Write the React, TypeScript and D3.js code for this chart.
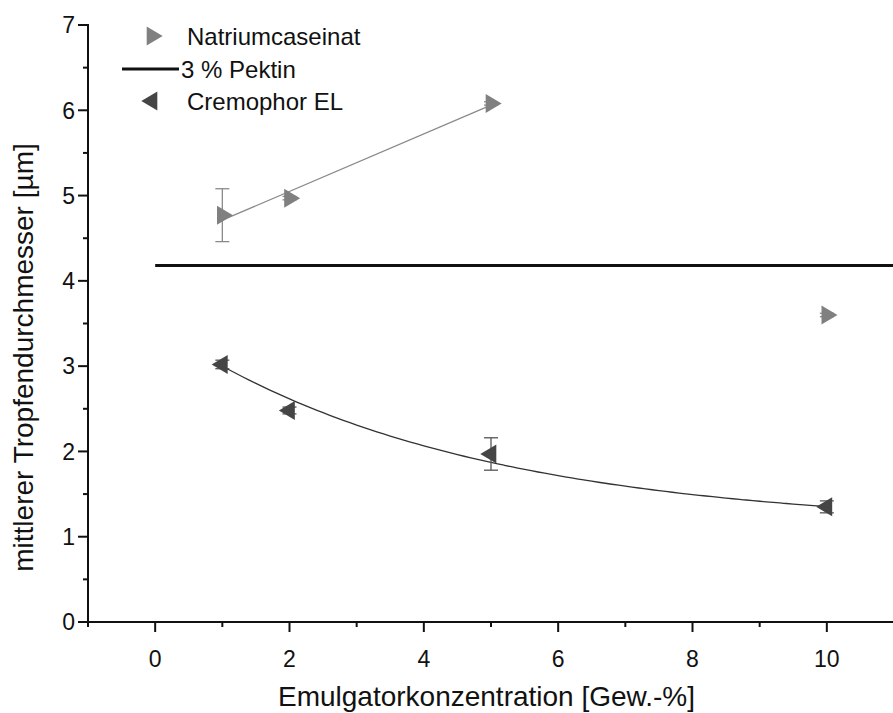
import React from "react";
import * as d3 from "d3";

// Emulsifier concentration [wt-%]
const concentrations = [1, 2, 5, 10];
// Mean droplet diameter [µm] and standard deviations
const natriumMean = [4.77, 4.97, 6.08, 3.6];
const natriumErr = [0.31, 0.02, 0.02, 0.02];
const cremophorMean = [3.02, 2.48, 1.97, 1.35];
const cremophorErr = [0.05, 0.04, 0.19, 0.07];
// Reference level for 3 % pectin
const pektinLevel = 4.18;

// Exponential decay fit for Cremophor EL: y = y0 + A * exp(-x / t)
const cremoFit = { y0: 1.109, A: 2.374, t: 4.4 };

const xTicksMajor = [0, 2, 4, 6, 8, 10];
const xTicksMinor = [-1, 1, 3, 5, 7, 9, 11];
const yTicksMajor = [0, 1, 2, 3, 4, 5, 6, 7];
const yTicksMinor = [0.5, 1.5, 2.5, 3.5, 4.5, 5.5, 6.5];

const legendLabels = ["Natriumcaseinat", "3 % Pektin", "Cremophor EL"];

const W = 893;
const H = 713;
const FONT = "'Liberation Sans', Arial, sans-serif";

function triRight(cx: number, cy: number, w = 16, h = 19) {
  // centroid at (cx, cy)
  const left = cx - w / 3;
  const right = cx + (2 * w) / 3;
  return `M${left},${cy - h / 2}L${right},${cy}L${left},${cy + h / 2}Z`;
}
function triLeft(cx: number, cy: number, w = 16, h = 19) {
  const right = cx + w / 3;
  const left = cx - (2 * w) / 3;
  return `M${right},${cy - h / 2}L${left},${cy}L${right},${cy + h / 2}Z`;
}

export default function App() {
  const x = d3.scaleLinear().domain([-1, 11]).range([88, 894]);
  const y = d3.scaleLinear().domain([0, 7]).range([622, 25]);

  // Linear regression over the first three sodium caseinate points
  const fx = concentrations.slice(0, 3);
  const fy = natriumMean.slice(0, 3);
  const mx = d3.mean(fx)!;
  const my = d3.mean(fy)!;
  const sxy = d3.sum(fx.map((v, i) => (v - mx) * (fy[i] - my)));
  const sxx = d3.sum(fx.map((v) => (v - mx) ** 2));
  const slope = sxy / sxx;
  const intercept = my - slope * mx;
  const natLine = d3
    .line<number>()
    .x((v) => x(v))
    .y((v) => y(intercept + slope * v));

  const cremoXs = d3.range(1, 10.001, 0.1);
  const cremoLine = d3
    .line<number>()
    .x((v) => x(v))
    .y((v) => y(cremoFit.y0 + cremoFit.A * Math.exp(-v / cremoFit.t)))
    .curve(d3.curveMonotoneX);

  const axisColor = "#111";
  const x0 = x(-1);
  const yBase = y(0);

  const errBar = (cx: number, m: number, e: number, key: string, color: string) => (
    <g key={key} stroke={color} strokeWidth={1.3}>
      <line x1={cx} x2={cx} y1={y(m - e)} y2={y(m + e)} />
      <line x1={cx - 7} x2={cx + 7} y1={y(m - e)} y2={y(m - e)} />
      <line x1={cx - 7} x2={cx + 7} y1={y(m + e)} y2={y(m + e)} />
    </g>
  );

  return (
    <svg
      width={W}
      height={H}
      style={{ position: "absolute", left: 0, top: 0, background: "#fff" }}
      fontFamily={FONT}
    >
      {/* pectin reference */}
      <line x1={x(0)} x2={W} y1={y(pektinLevel)} y2={y(pektinLevel)} stroke="#111" strokeWidth={2.8} />

      {/* fits */}
      <path d={natLine([1, 5]) || ""} fill="none" stroke="#8a8a8a" strokeWidth={1.3} />
      <path d={cremoLine(cremoXs) || ""} fill="none" stroke="#333" strokeWidth={1.3} />

      {/* error bars */}
      {concentrations.map((c, i) => errBar(x(c), natriumMean[i], natriumErr[i], "ne" + i, "#8a8a8a"))}
      {concentrations.map((c, i) => errBar(x(c), cremophorMean[i], cremophorErr[i], "ce" + i, "#555"))}

      {/* markers */}
      {concentrations.map((c, i) => (
        <path key={"n" + i} d={triRight(x(c), y(natriumMean[i]))} fill="#808080" />
      ))}
      {concentrations.map((c, i) => (
        <path key={"c" + i} d={triLeft(x(c), y(cremophorMean[i]))} fill="#454545" />
      ))}

      {/* axes */}
      <line x1={x0} x2={W} y1={yBase} y2={yBase} stroke={axisColor} strokeWidth={2} />
      <line x1={x0} x2={x0} y1={y(7) - 1} y2={yBase + 1} stroke={axisColor} strokeWidth={2} />
      {xTicksMajor.map((t) => (
        <g key={"xt" + t}>
          <line x1={x(t)} x2={x(t)} y1={yBase} y2={yBase + 10} stroke={axisColor} strokeWidth={2} />
          <text x={x(t)} y={yBase + 45} textAnchor="middle" fontSize={23} fill="#111">
            {t}
          </text>
        </g>
      ))}
      {xTicksMinor.map((t) => (
        <line key={"xm" + t} x1={x(t)} x2={x(t)} y1={yBase} y2={yBase + 5} stroke={axisColor} strokeWidth={2} />
      ))}
      {yTicksMajor.map((t) => (
        <g key={"yt" + t}>
          <line x1={x0 - 10} x2={x0} y1={y(t)} y2={y(t)} stroke={axisColor} strokeWidth={2} />
          <text x={x0 - 13} y={y(t)} dy="0.36em" textAnchor="end" fontSize={23} fill="#111">
            {t}
          </text>
        </g>
      ))}
      {yTicksMinor.map((t) => (
        <line key={"ym" + t} x1={x0 - 5} x2={x0} y1={y(t)} y2={y(t)} stroke={axisColor} strokeWidth={2} />
      ))}

      {/* axis titles */}
      <text x={(x(-1) + W) / 2 - 4} y={706} textAnchor="middle" fontSize={28} fill="#111">
        Emulgatorkonzentration [Gew.-%]
      </text>
      <text
        transform={`translate(33, ${(y(0) + y(7)) / 2 + 34}) rotate(-90)`}
        textAnchor="middle"
        fontSize={28}
        fill="#111"
      >
        mittlerer Tropfendurchmesser [µm]
      </text>

      {/* legend */}
      <path d={triRight(152, 36)} fill="#808080" />
      <text x={187} y={36} dy="0.36em" fontSize={24} fill="#111">
        {legendLabels[0]}
      </text>
      <line x1={122} x2={179} y1={69} y2={69} stroke="#111" strokeWidth={2.8} />
      <text x={181} y={69} dy="0.36em" fontSize={24} fill="#111">
        {legendLabels[1]}
      </text>
      <path d={triLeft(152, 101)} fill="#454545" />
      <text x={187} y={101} dy="0.36em" fontSize={24} fill="#111">
        {legendLabels[2]}
      </text>
    </svg>
  );
}
